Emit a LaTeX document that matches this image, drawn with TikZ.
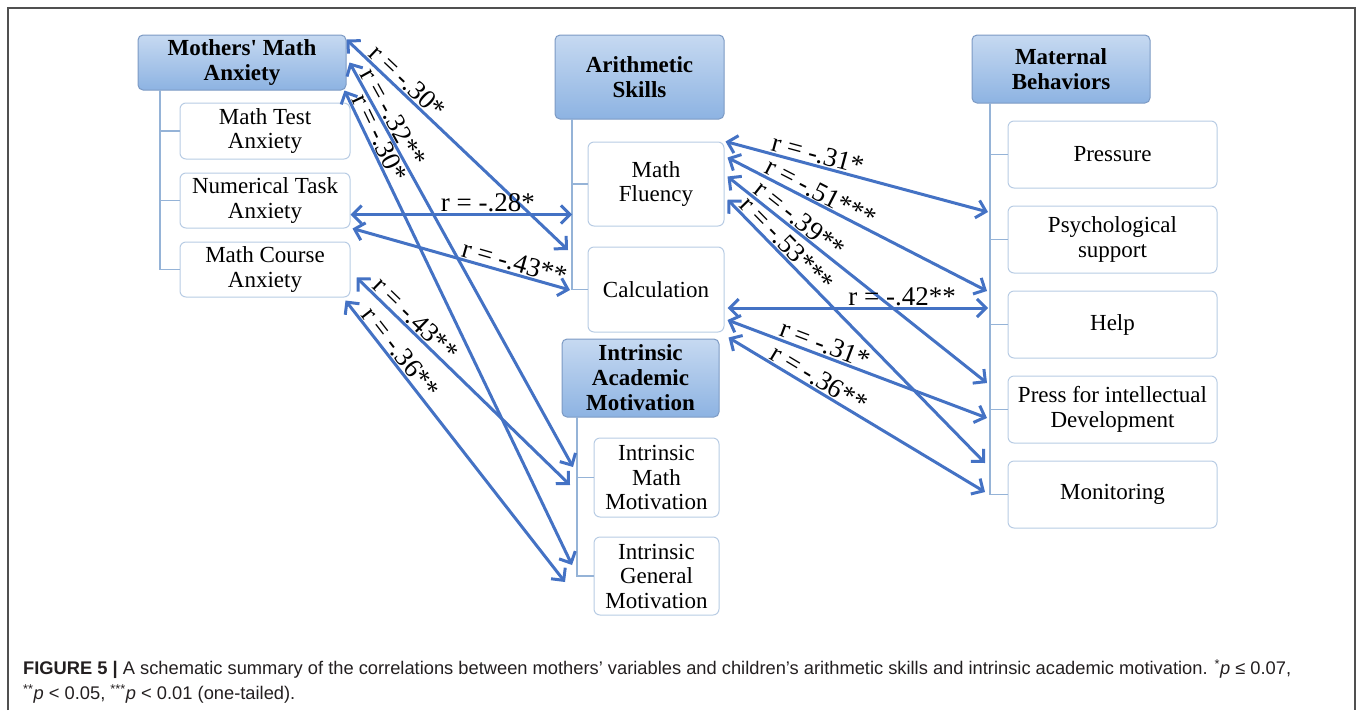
\documentclass[tikz,border=0pt]{standalone}
\usepackage{fontspec}
\setmainfont{Liberation Serif}
\newfontfamily\capfont{Liberation Sans}
\usetikzlibrary{arrows.meta}
\definecolor{hdtop}{RGB}{198,217,241}
\definecolor{hdbot}{RGB}{141,179,226}
\definecolor{hdline}{RGB}{124,154,196}
\definecolor{itemline}{RGB}{184,204,228}
\definecolor{treeline}{RGB}{149,179,215}
\definecolor{arrowblue}{RGB}{68,114,196}
\definecolor{framegray}{RGB}{80,80,80}
\definecolor{captext}{RGB}{35,31,32}

\tikzset{
  hdr/.style={draw=hdline, line width=1pt, rounded corners=5pt, top color=hdtop,
    bottom color=hdbot, align=center, inner sep=0pt,
    font=\fontsize{23}{25}\selectfont\bfseries},
  item/.style={draw=itemline, line width=1pt, fill=white, rounded corners=6pt,
    align=center, inner sep=0pt, font=\fontsize{23}{24.5}\selectfont},
  tree/.style={draw=treeline, line width=1.5pt},
  corr/.style={draw=arrowblue, line width=3pt, <->,
    >={Straight Barb[length=9pt,width=18pt]}},
  lbl/.style={sloped, above, inner sep=1pt, text=black,
    font=\fontsize{27}{27}\selectfont},
}

\begin{document}
\begin{tikzpicture}[x=1pt,y=-1pt]
    \useasboundingbox (0,0) rectangle (1357,710);
    % Frame
    \draw[framegray, line width=2pt] (8,710) -- (8,8) -- (1355,8) -- (1355,710);

    % Mothers' math anxiety
    \node[hdr, minimum width=208pt, minimum height=55pt] (mma) at (242,62.5) {Mothers\textquotesingle{} Math\\Anxiety};
    \node[item, minimum width=170pt, minimum height=56pt] (mta) at (265,131) {Math Test\\Anxiety};
    \node[item, minimum width=170pt, minimum height=55pt] (nta) at (265,200.5) {Numerical Task\\Anxiety};
    \node[item, minimum width=170pt, minimum height=55pt] (mca) at (265,269.5) {Math Course\\Anxiety};
    \coordinate (mmat) at (160,90);
    \draw[tree] (mmat) |- (mca.west);
    \draw[tree] (mmat |- mta.west) -- (mta.west);
    \draw[tree] (mmat |- nta.west) -- (nta.west);

    % Arithmetic skills
    \node[hdr, minimum width=169pt, minimum height=84pt] (ari) at (639.5,77) {Arithmetic\\Skills};
    \node[item, minimum width=136pt, minimum height=84pt] (flu) at (656,184) {Math\\Fluency};
    \node[item, minimum width=136pt, minimum height=85pt] (calc) at (656,289.5) {Calculation};
    \coordinate (arit) at (572,119);
    \draw[tree] (arit) |- (calc.west);
    \draw[tree] (arit |- flu.west) -- (flu.west);

    % Intrinsic academic motivation
    \node[hdr, minimum width=157pt, minimum height=78pt] (iam) at (640.5,378) {Intrinsic\\Academic\\Motivation};
    \node[item, minimum width=125pt, minimum height=79pt] (imm) at (656.5,477.5) {Intrinsic\\Math\\Motivation};
    \node[item, minimum width=125pt, minimum height=78pt] (igm) at (656.5,576) {Intrinsic\\General\\Motivation};
    \coordinate (iamt) at (577,417);
    \draw[tree] (iamt) |- (igm.west);
    \draw[tree] (iamt |- imm.west) -- (imm.west);

    % Maternal behaviors
    \node[hdr, minimum width=178pt, minimum height=68pt] (mb) at (1061,69) {Maternal\\Behaviors};
    \node[item, minimum width=209pt, minimum height=67pt] (pre) at (1112.5,154.5) {Pressure};
    \node[item, minimum width=209pt, minimum height=67pt] (psy) at (1112.5,239.5) {Psychological\\support};
    \node[item, minimum width=209pt, minimum height=67pt] (hlp) at (1112.5,324.5) {Help};
    \node[item, minimum width=209pt, minimum height=67pt] (pid) at (1112.5,409.5) {Press for intellectual\\Development};
    \node[item, minimum width=209pt, minimum height=67pt] (mon) at (1112.5,494.5) {Monitoring};
    \coordinate (mbt) at (990,103);
    \draw[tree] (mbt) |- (mon.west);
    \draw[tree] (mbt |- pre.west) -- (pre.west);
    \draw[tree] (mbt |- psy.west) -- (psy.west);
    \draw[tree] (mbt |- hlp.west) -- (hlp.west);
    \draw[tree] (mbt |- pid.west) -- (pid.west);

    % Arrow ends on the tree lines
    \coordinate (toCalcA) at (568,250);
    \coordinate (toFlu) at (572,214.5);
    \coordinate (toCalcB) at (570,290);
    \coordinate (toImmA) at (573,467);
    \coordinate (toImmB) at (570,485);
    \coordinate (toIgmA) at (572,565);
    \coordinate (toIgmB) at (565,582);
    \coordinate (toPre) at (988,212);
    \coordinate (toPsy) at (987,291);
    \coordinate (toHlp) at (988,308);
    \coordinate (toPidA) at (987,383);
    \coordinate (toPidB) at (987,418);
    \coordinate (toMonA) at (985,463);
    \coordinate (toMonB) at (985,492);

    % Correlations, mothers' anxiety
    \draw[corr] ([yshift=-5pt]mma.north east) -- (toCalcA) node[lbl, pos=0.24] {r = -.30*};
    \draw[corr] ([xshift=3pt]mma.east) -- (toImmA) node[lbl, pos=0.15] {r = -.32**};
    \draw[corr] ([xshift=-2pt]mma.south east) -- (toIgmA) node[lbl, pos=0.11] {r = -.30*};
    \draw[corr] ([yshift=-14pt]nta.east) -- (toFlu) node[lbl, pos=0.62] {r = -.28*};
    \draw[corr] ([xshift=2pt]nta.south east) -- (toCalcB) node[lbl, pos=0.73] {r = -.43**};
    \draw[corr] ([xshift=6pt,yshift=-8pt]mca.east) -- (toImmB) node[lbl, pos=0.24] {r = -.43**};
    \draw[corr] ([xshift=-5pt,yshift=-3pt]mca.south east) -- (toIgmB) node[lbl, pos=0.21] {r = -.36**};

    % Correlations, maternal behaviors
    \draw[corr] ([xshift=1pt]flu.north east) -- (toPre) node[lbl, pos=0.34] {r = -.31*};
    \draw[corr] ([xshift=3pt,yshift=-16pt]flu.north east) -- (toPsy) node[lbl, pos=0.34] {r = -.51***};
    \draw[corr] ([xshift=3pt,yshift=-35pt]flu.north east) -- (toPidA) node[lbl, pos=0.25] {r = -.39**};
    \draw[corr] ([xshift=3pt,yshift=-58pt]flu.north east) -- (toMonA) node[lbl, pos=0.20] {r = -.53***};
    \draw[corr] ([xshift=3pt,yshift=-18.5pt]calc.east) -- (toHlp) node[lbl, pos=0.67] {r = -.42**};
    \draw[corr] ([xshift=3pt,yshift=-30.5pt]calc.east) -- (toPidB) node[lbl, pos=0.36] {r = -.31*};
    \draw[corr] ([xshift=4pt,yshift=-5pt]calc.south east) -- (toMonB) node[lbl, pos=0.33] {r = -.36**};

    % Caption
    \node[anchor=north west, align=left, inner sep=0pt, text=captext,
      font=\capfont\fontsize{18.3}{25}\selectfont] (cap) at (23,659)
      {\textbf{FIGURE 5 |} A schematic summary of the correlations between mothers’ variables and children’s arithmetic skills and intrinsic academic motivation. \textsuperscript{*}\textit{p} ≤ 0.07,\\
       \textsuperscript{**}\textit{p} < 0.05, \textsuperscript{***}\textit{p} < 0.01 (one-tailed).};
\end{tikzpicture}
\end{document}
